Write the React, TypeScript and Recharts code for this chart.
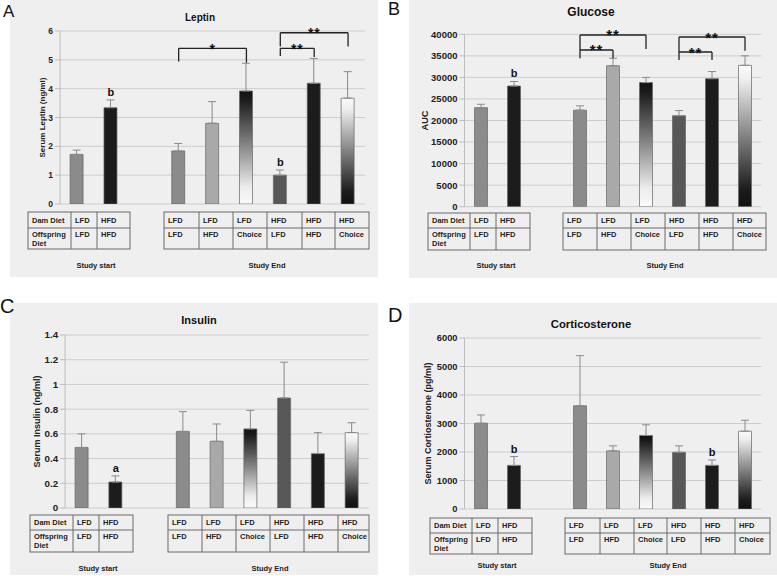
import React from 'react';
import {
  BarChart,
  Bar,
  XAxis,
  YAxis,
  CartesianGrid,
  Cell,
  ErrorBar,
  ReferenceLine,
  ReferenceDot,
} from 'recharts';

const FONT = '"Liberation Sans", Arial, Helvetica, sans-serif';

// ---------- data ----------
const categories = ['start-LL', 'start-HH', 'gap', 'end-LL', 'end-LH', 'end-LC', 'end-HL', 'end-HH', 'end-HC'];
const damDietStart = ['LFD', 'HFD'];
const offspringDietStart = ['LFD', 'HFD'];
const damDietEnd = ['LFD', 'LFD', 'LFD', 'HFD', 'HFD', 'HFD'];
const offspringDietEnd = ['LFD', 'HFD', 'Choice', 'LFD', 'HFD', 'Choice'];
const groupLabels = ['Study start', 'Study End'];

const leptinValues = [1.72, 3.34, null, 1.84, 2.8, 3.92, 1.0, 4.19, 3.67];
const leptinErrors = [0.15, 0.27, null, 0.26, 0.75, 0.96, 0.18, 0.86, 0.92];
const leptinLetters = ['', 'b', '', '', '', '', 'b', '', ''];
const leptinTicks = [0, 1, 2, 3, 4, 5, 6];

const glucoseValues = [22970, 28000, null, 22400, 32700, 28800, 21100, 29700, 32800];
const glucoseErrors = [800, 1050, null, 1000, 1750, 1200, 1200, 1650, 2200];
const glucoseLetters = ['', 'b', '', '', '', '', '', '', ''];
const glucoseTicks = [0, 5000, 10000, 15000, 20000, 25000, 30000, 35000, 40000];

const insulinValues = [0.49, 0.21, null, 0.62, 0.54, 0.64, 0.89, 0.44, 0.61];
const insulinErrors = [0.11, 0.05, null, 0.16, 0.14, 0.15, 0.29, 0.17, 0.08];
const insulinLetters = ['', 'a', '', '', '', '', '', '', ''];
const insulinTicks = [0, 0.2, 0.4, 0.6, 0.8, 1, 1.2, 1.4];

const corticoValues = [3010, 1530, null, 3620, 2040, 2580, 1990, 1530, 2730];
const corticoErrors = [290, 310, null, 1760, 175, 375, 225, 190, 385];
const corticoLetters = ['', 'b', '', '', '', '', '', 'b', ''];
const corticoTicks = [0, 1000, 2000, 3000, 4000, 5000, 6000];

type Bracket = { from: string; to: string; y: number; yFrom: number; yTo: number; label: string };

const leptinBrackets: Bracket[] = [
  { from: 'end-LL', to: 'end-LC', y: 5.4, yFrom: 4.94, yTo: 4.9, label: '*' },
  { from: 'end-HL', to: 'end-HH', y: 5.4, yFrom: 5.13, yTo: 5.1, label: '**' },
  { from: 'end-HL', to: 'end-HC', y: 5.94, yFrom: 5.46, yTo: 5.46, label: '**' },
];
const glucoseBrackets: Bracket[] = [
  { from: 'end-LL', to: 'end-LH', y: 36360, yFrom: 34420, yTo: 34420, label: '**' },
  { from: 'end-LL', to: 'end-LC', y: 39840, yFrom: 36360, yTo: 36590, label: '**' },
  { from: 'end-HL', to: 'end-HH', y: 35890, yFrom: 34040, yTo: 34040, label: '**' },
  { from: 'end-HL', to: 'end-HC', y: 39370, yFrom: 35890, yTo: 36200, label: '**' },
];

// ---------- styles ----------
const solidFills: Record<string, string> = {
  'start-LL': '#8b8b8b',
  'start-HH': '#1c1c1c',
  gap: 'none',
  'end-LL': '#8b8b8b',
  'end-LH': '#a9a9a9',
  'end-HL': '#575757',
  'end-HH': '#1c1c1c',
};

function fillFor(prefix: string, cat: string) {
  if (cat === 'end-LC') return `url(#${prefix}-lc)`;
  if (cat === 'end-HC') return `url(#${prefix}-hc)`;
  return solidFills[cat];
}

type Layout = {
  bg: { x: number; y: number; w: number; h: number };
  letter: { x: number; y: number; size: number };
  title: { x: number; y: number; size: number };
  tStart: { xs: number[]; ys: number[] };
  tEnd: { xs: number[]; ys: number[] };
  group: { y: number; startX: number; endX: number };
};

type PanelCfg = {
  id: string;
  title: string;
  yLabel: string;
  values: (number | null)[];
  errors: (number | null)[];
  letters: string[];
  ticks: number[];
  brackets: Bracket[];
  box: { left: number; top: number; width: number; height: number };
  margin: { top: number; right: number; bottom: number; left: number };
  yWidth: number;
  tickFont: number;
  labelFont: number;
  starFont: number;
  layout: Layout;
};

const panels: PanelCfg[] = [
  {
    id: 'A',
    title: 'Leptin',
    yLabel: 'Serum Leptin (ng/ml)',
    values: leptinValues,
    errors: leptinErrors,
    letters: leptinLetters,
    ticks: leptinTicks,
    brackets: leptinBrackets,
    box: { left: 10, top: 0, width: 368, height: 285 },
    margin: { top: 31, right: 13, bottom: 81, left: 14.1 },
    yWidth: 36,
    tickFont: 8.5,
    labelFont: 8,
    starFont: 14,
    layout: {
      bg: { x: 10, y: 0, w: 368, h: 277 },
      letter: { x: 3, y: 17, size: 17 },
      title: { x: 200, y: 21, size: 10 },
      tStart: { xs: [28, 71, 97, 130], ys: [212, 228, 249] },
      tEnd: { xs: [164, 199, 233, 267, 302, 335, 369], ys: [212, 228, 249] },
      group: { y: 268, startX: 96, endX: 267 },
    },
  },
  {
    id: 'B',
    title: 'Glucose',
    yLabel: 'AUC',
    values: glucoseValues,
    errors: glucoseErrors,
    letters: glucoseLetters,
    ticks: glucoseTicks,
    brackets: glucoseBrackets,
    box: { left: 380, top: 0, width: 397, height: 285 },
    margin: { top: 34.3, right: 15.5, bottom: 78.3, left: 4.9 },
    yWidth: 79.6,
    tickFont: 9.5,
    labelFont: 9.2,
    starFont: 15,
    layout: {
      bg: { x: 409, y: 0, w: 368, h: 278 },
      letter: { x: 388, y: 15, size: 18 },
      title: { x: 591, y: 16, size: 12 },
      tStart: { xs: [428, 470, 496, 530], ys: [213, 228, 250] },
      tEnd: { xs: [563, 597, 631, 665, 699, 733, 766], ys: [213, 228, 250] },
      group: { y: 268, startX: 496, endX: 665 },
    },
  },
  {
    id: 'C',
    title: 'Insulin',
    yLabel: 'Serum Insulin (ng/ml)',
    values: insulinValues,
    errors: insulinErrors,
    letters: insulinLetters,
    ticks: insulinTicks,
    brackets: [],
    box: { left: 0, top: 285, width: 380, height: 291 },
    margin: { top: 50, right: 11.1, bottom: 68, left: 8.3 },
    yWidth: 56.8,
    tickFont: 9.8,
    labelFont: 9,
    starFont: 14,
    layout: {
      bg: { x: 10, y: 303, w: 368, h: 272 },
      letter: { x: 0, y: 313, size: 20 },
      title: { x: 199, y: 324, size: 11 },
      tStart: { xs: [30, 73, 99, 133], ys: [515, 530, 552] },
      tEnd: { xs: [168, 202, 236, 270, 304, 338, 369], ys: [515, 530, 552] },
      group: { y: 571, startX: 98, endX: 270 },
    },
  },
  {
    id: 'D',
    title: 'Corticosterone',
    yLabel: 'Serum Cortiosterone (pg/ml)',
    values: corticoValues,
    errors: corticoErrors,
    letters: corticoLetters,
    ticks: corticoTicks,
    brackets: [],
    box: { left: 388, top: 285, width: 389, height: 291 },
    margin: { top: 53, right: 15.5, bottom: 67, left: 3.5 },
    yWidth: 73,
    tickFont: 9.3,
    labelFont: 9,
    starFont: 14,
    layout: {
      bg: { x: 409, y: 303, w: 368, h: 272 },
      letter: { x: 388, y: 322, size: 20 },
      title: { x: 591, y: 328, size: 11.3 },
      tStart: { xs: [430, 472, 498, 532], ys: [518, 533, 554] },
      tEnd: { xs: [565, 600, 634, 667, 701, 735, 770], ys: [518, 533, 554] },
      group: { y: 568, startX: 497, endX: 668 },
    },
  },
];

// ---------- chart panel ----------
function Panel({ cfg }: { cfg: PanelCfg }) {
  const data = categories.map((cat, i) => ({
    cat,
    value: cfg.values[i],
    err: cfg.errors[i] == null ? undefined : [0, cfg.errors[i] as number],
  }));
  const domainMax = cfg.ticks[cfg.ticks.length - 1];
  const textStyle = { fontFamily: FONT, fontWeight: 700 };

  return (
    <div style={{ position: 'absolute', left: cfg.box.left, top: cfg.box.top }}>
      <BarChart
        width={cfg.box.width}
        height={cfg.box.height}
        data={data}
        margin={cfg.margin}
        barCategoryGap={0}
      >
        <defs>
          <linearGradient id={`${cfg.id}-lc`} x1="0" y1="0" x2="0" y2="1">
            <stop offset="0" stopColor="#111111" />
            <stop offset="0.08" stopColor="#1c1c1c" />
            <stop offset="0.45" stopColor="#7d7d7d" />
            <stop offset="0.85" stopColor="#ececec" />
            <stop offset="1" stopColor="#fafafa" />
          </linearGradient>
          <linearGradient id={`${cfg.id}-hc`} x1="0" y1="0" x2="0" y2="1">
            <stop offset="0" stopColor="#fafafa" />
            <stop offset="0.1" stopColor="#efefef" />
            <stop offset="0.5" stopColor="#828282" />
            <stop offset="0.88" stopColor="#1c1c1c" />
            <stop offset="1" stopColor="#111111" />
          </linearGradient>
        </defs>
        <CartesianGrid vertical={false} stroke="#cdcdcd" strokeWidth={1} />
        <XAxis dataKey="cat" hide />
        <YAxis
          domain={[0, domainMax]}
          ticks={cfg.ticks}
          interval={0}
          width={cfg.yWidth}
          allowDataOverflow
          tickSize={5}
          tickMargin={2}
          axisLine={{ stroke: '#bdbdbd' }}
          tickLine={{ stroke: '#bdbdbd' }}
          tick={{ fontSize: cfg.tickFont, fill: '#222', ...textStyle }}
          label={{
            value: cfg.yLabel,
            angle: -90,
            position: 'center',
            style: { fontSize: cfg.labelFont, fill: '#222', ...textStyle },
          }}
        />
        <Bar dataKey="value" barSize={13} isAnimationActive={false} stroke="#666" strokeWidth={0.7}>
          {data.map((d) => (
            <Cell key={d.cat} fill={fillFor(cfg.id, d.cat)} />
          ))}
          <ErrorBar dataKey="err" direction="y" width={4} stroke="#8a8a8a" strokeWidth={1} />
        </Bar>
        {data.map((d, i) =>
          cfg.letters[i] && d.value != null ? (
            <ReferenceDot
              key={`l-${d.cat}`}
              x={d.cat}
              y={(d.value as number) + (cfg.errors[i] as number)}
              r={0}
              ifOverflow="visible"
              shape={(p: any) => (
                <text
                  x={p.cx}
                  y={p.cy - 4}
                  textAnchor="middle"
                  fontSize={11}
                  fill="#111"
                  style={textStyle}
                >
                  {cfg.letters[i]}
                </text>
              )}
            />
          ) : null
        )}
        {cfg.brackets.flatMap((b, i) => [
          <ReferenceLine
            key={`bh-${i}`}
            segment={[
              { x: b.from, y: b.y },
              { x: b.to, y: b.y },
            ]}
            stroke="#222"
            strokeWidth={1.3}
            ifOverflow="visible"
            label={{
              content: (p: any) => {
                const vb = p.viewBox || {};
                return (
                  <text
                    x={vb.x + vb.width / 2}
                    y={vb.y + 5.5}
                    textAnchor="middle"
                    fontSize={cfg.starFont}
                    fill="#111"
                    letterSpacing={0.8}
                    style={textStyle}
                  >
                    {b.label}
                  </text>
                );
              },
            }}
          />,
          <ReferenceLine
            key={`bl-${i}`}
            segment={[
              { x: b.from, y: b.y },
              { x: b.from, y: b.yFrom },
            ]}
            stroke="#222"
            strokeWidth={1.3}
            ifOverflow="visible"
          />,
          <ReferenceLine
            key={`br-${i}`}
            segment={[
              { x: b.to, y: b.y },
              { x: b.to, y: b.yTo },
            ]}
            stroke="#222"
            strokeWidth={1.3}
            ifOverflow="visible"
          />,
        ])}
      </BarChart>
    </div>
  );
}

// ---------- overlay (tables, titles, letters) ----------
const tableText = { fontFamily: FONT, fontWeight: 700, fontSize: 7.5, fill: '#222' } as const;

function DietTable({
  xs,
  ys,
  dam,
  off,
  header,
}: {
  xs: number[];
  ys: number[];
  dam: string[];
  off: string[];
  header: boolean;
}) {
  const row1 = header ? ['Dam Diet', ...dam] : dam;
  const row2 = header ? ['Offspring\nDiet', ...off] : off;
  const r1y = (ys[0] + ys[1]) / 2 + 2.8;
  const r2y = ys[1] + 9.3;
  return (
    <g>
      <rect
        x={xs[0]}
        y={ys[0]}
        width={xs[xs.length - 1] - xs[0]}
        height={ys[2] - ys[0]}
        fill="none"
        stroke="#6a6a6a"
        strokeWidth={1}
      />
      <line x1={xs[0]} x2={xs[xs.length - 1]} y1={ys[1]} y2={ys[1]} stroke="#6a6a6a" strokeWidth={1} />
      {xs.slice(1, -1).map((x, i) => (
        <line key={i} x1={x} x2={x} y1={ys[0]} y2={ys[2]} stroke="#6a6a6a" strokeWidth={1} />
      ))}
      {row1.map((t, i) => (
        <text key={`a${i}`} x={xs[i] + 4} y={r1y} {...tableText}>
          {t}
        </text>
      ))}
      {row2.map((t, i) =>
        t.split('\n').map((line, j) => (
          <text key={`b${i}-${j}`} x={xs[i] + 4} y={r2y + j * 9} {...tableText}>
            {line}
          </text>
        ))
      )}
    </g>
  );
}

function Overlay() {
  return (
    <svg
      width={777}
      height={576}
      style={{ position: 'absolute', left: 0, top: 0, pointerEvents: 'none' }}
    >
      {panels.map((p) => {
        const L = p.layout;
        return (
          <g key={p.id}>
            <text x={L.letter.x} y={L.letter.y} fontSize={L.letter.size} fill="#111" fontFamily={FONT}>
              {p.id}
            </text>
            <text
              x={L.title.x}
              y={L.title.y}
              fontSize={L.title.size}
              fontWeight={700}
              fill="#111"
              fontFamily={FONT}
              textAnchor="middle"
            >
              {p.title}
            </text>
            <DietTable xs={L.tStart.xs} ys={L.tStart.ys} dam={damDietStart} off={offspringDietStart} header />
            <DietTable xs={L.tEnd.xs} ys={L.tEnd.ys} dam={damDietEnd} off={offspringDietEnd} header={false} />
            <text x={L.group.startX} y={L.group.y} textAnchor="middle" {...tableText}>
              {groupLabels[0]}
            </text>
            <text x={L.group.endX} y={L.group.y} textAnchor="middle" {...tableText}>
              {groupLabels[1]}
            </text>
          </g>
        );
      })}
    </svg>
  );
}

export default function App() {
  return (
    <div
      style={{
        position: 'absolute',
        left: 0,
        top: 0,
        width: 777,
        height: 576,
        background: '#ffffff',
        overflow: 'hidden',
      }}
    >
      {panels.map((p) => (
        <div
          key={`bg-${p.id}`}
          style={{
            position: 'absolute',
            left: p.layout.bg.x,
            top: p.layout.bg.y,
            width: p.layout.bg.w,
            height: p.layout.bg.h,
            background: '#efefef',
          }}
        />
      ))}
      {panels.map((p) => (
        <Panel key={p.id} cfg={p} />
      ))}
      <Overlay />
    </div>
  );
}
